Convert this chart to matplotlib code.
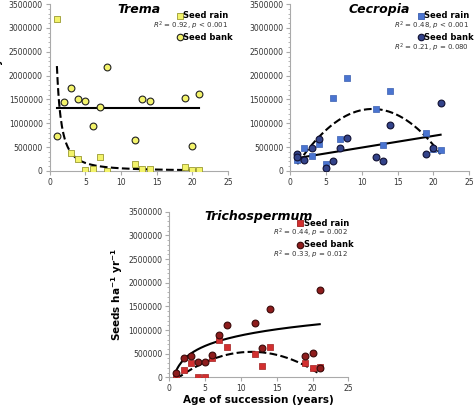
import numpy as np
import matplotlib
matplotlib.use("Agg")
import matplotlib.pyplot as plt

# Data
tr_rain_x = [1,3,4,5,6,7,8,12,13,14,19,20,21]
tr_rain_y = [3180000,380000,260000,30000,50000,300000,5000,150000,50000,40000,90000,10000,10000]
tr_bank_x = [1,2,3,4,5,6,7,8,12,13,14,19,20,21]
tr_bank_y = [740000,1440000,1740000,1510000,1460000,940000,1340000,2190000,650000,1510000,1460000,1540000,520000,1610000]
ce_rain_x = [1,2,3,4,5,6,7,8,12,13,14,19,20,21]
ce_rain_y = [240000,490000,320000,560000,140000,1540000,680000,1940000,1300000,540000,1680000,790000,450000,440000]
ce_bank_x = [1,1,2,3,4,5,6,7,8,12,13,14,19,20,21]
ce_bank_y = [350000,300000,230000,480000,670000,60000,200000,480000,700000,300000,210000,970000,350000,480000,1420000]
tc_rain_x = [1,2,3,4,5,6,7,8,12,13,14,19,20,21]
tc_rain_y = [0,150000,300000,0,0,400000,780000,650000,500000,240000,640000,300000,200000,220000]
tc_bank_x = [1,2,3,4,5,6,7,8,12,13,14,19,20,21,21]
tc_bank_y = [100000,420000,460000,320000,320000,480000,900000,1100000,1150000,620000,1450000,450000,520000,1840000,200000]

xf = np.linspace(1, 21, 200)

fig = plt.figure(figsize=(4.74, 4.08), dpi=100)
axA = fig.add_axes([0.105, 0.581, 0.376, 0.409])
axB = fig.add_axes([0.612, 0.581, 0.378, 0.409])
axC = fig.add_axes([0.357, 0.075, 0.378, 0.406])

def style(ax, title):
    ax.set_xlim(0, 25); ax.set_ylim(0, 3500000)
    ax.set_xticks([0,5,10,15,20,25])
    ax.set_yticks(np.arange(0, 3500001, 500000))
    ax.set_yticks(np.arange(0, 3500001, 100000), minor=True)
    ax.ticklabel_format(style='plain', axis='y')
    for s in ['top','right']:
        ax.spines[s].set_visible(False)
    for s in ['left','bottom']:
        ax.spines[s].set_color('#aaaaaa')
    ax.tick_params(labelsize=5.5, colors='#333333', length=3, color='#aaaaaa', pad=2)
    ax.tick_params(which='minor', length=1.5, color='#aaaaaa')
    ax.text(0.5, 0.97, title, transform=ax.transAxes, ha='center', va='center',
            fontsize=9, fontweight='bold', style='italic')

def legend(ax, rc, rec, bc, bec, r1, r2):
    ax.scatter([0.73], [0.93], marker='s', s=22, c=rc, edgecolors=rec, linewidths=0.6, transform=ax.transAxes, clip_on=False)
    ax.text(0.75, 0.93, 'Seed rain', transform=ax.transAxes, fontsize=6, fontweight='bold', va='center')
    y2 = 0.86
    if r1:
        ax.text(1.0, 0.87, r1, transform=ax.transAxes, fontsize=5, ha='right', va='center', color='#333333')
        y2 = 0.80
    ax.scatter([0.73], [y2], marker='o', s=22, c=bc, edgecolors=bec, linewidths=0.8, transform=ax.transAxes, clip_on=False)
    ax.text(0.75, y2, 'Seed bank', transform=ax.transAxes, fontsize=6, fontweight='bold', va='center')
    if r2:
        ax.text(1.0, y2-0.06, r2, transform=ax.transAxes, fontsize=5, ha='right', va='center', color='#333333')

ylab = r'Seeds ha$^{\mathbf{-1}}$ yr$^{\mathbf{-1}}$'

# Trema
style(axA, 'Trema')
axA.plot(xf, 2200000 * xf**-1.6, 'k--', lw=1.5)
axA.plot([1, 21], [1330000, 1330000], 'k-', lw=1.5)
axA.scatter(tr_rain_x, tr_rain_y, marker='s', s=22, c='#f3f36a', edgecolors='#9a9a30', linewidths=0.6, zorder=3)
axA.scatter(tr_bank_x, tr_bank_y, marker='o', s=24, c='#f3f36a', edgecolors='#222222', linewidths=0.8, zorder=3)
axA.set_ylabel(ylab, fontsize=7.5, fontweight='bold', labelpad=2)
legend(axA, '#f3f36a', '#9a9a30', '#f3f36a', '#222222', r'$R^2$ = 0.92, $p$ < 0.001', None)

# Cecropia
style(axB, 'Cecropia')
axB.plot(xf, 1300000 - 10500 * (xf - 11.5)**2, 'k--', lw=1.5)
axB.plot(xf, 270000 + 24500 * (xf - 1), 'k-', lw=1.5)
axB.scatter(ce_rain_x, ce_rain_y, marker='s', s=22, c='#4a74d0', edgecolors='#3a5fb0', linewidths=0.5, zorder=3)
axB.scatter(ce_bank_x, ce_bank_y, marker='o', s=24, c='#33438a', edgecolors='#111133', linewidths=0.8, zorder=3)
legend(axB, '#4a74d0', '#3a5fb0', '#33438a', '#111133', r'$R^2$ = 0.48, $p$ < 0.001', r'$R^2$ = 0.21, $p$ = 0.080')

# Trichospermum
style(axC, 'Trichospermum')
axC.plot(xf, 540000 - 5200 * (xf - 11.5)**2, 'k--', lw=1.5)
axC.plot(xf, 150000 + 320000 * np.log(xf), 'k-', lw=1.5)
axC.scatter(tc_rain_x, tc_rain_y, marker='s', s=22, c='#d22f2f', edgecolors='#a02020', linewidths=0.5, zorder=3)
axC.scatter(tc_bank_x, tc_bank_y, marker='o', s=24, c='#8e1c1c', edgecolors='#3a0a0a', linewidths=0.8, zorder=3)
axC.set_ylabel(ylab, fontsize=7.5, fontweight='bold', labelpad=2)
axC.set_xlabel('Age of succession (years)', fontsize=7.5, fontweight='bold', labelpad=1)
legend(axC, '#d22f2f', '#a02020', '#8e1c1c', '#3a0a0a', r'$R^2$ = 0.44, $p$ = 0.002', r'$R^2$ = 0.33, $p$ = 0.012')

fig.savefig('out.png', dpi=100)
